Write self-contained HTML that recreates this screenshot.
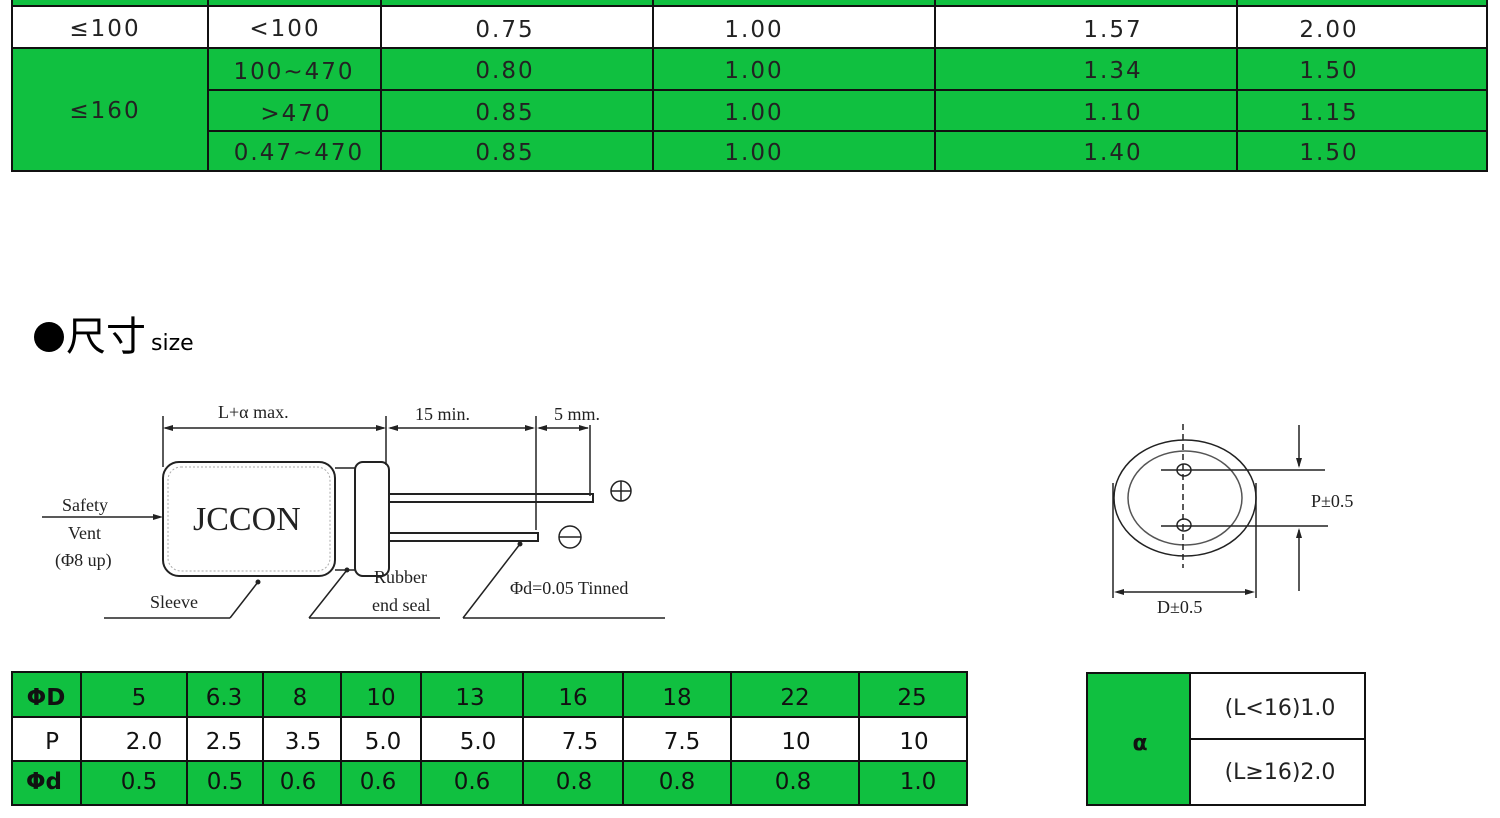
<!DOCTYPE html>
<html><head><meta charset="utf-8"><style>
html,body{margin:0;padding:0;background:#fff;width:1500px;height:818px;overflow:hidden}
svg text{font-family:"DejaVu Sans","Liberation Sans",sans-serif}
.s{font-family:"Liberation Serif",serif !important}
</style></head><body>
<svg width="1500" height="818" viewBox="0 0 1500 818" xmlns="http://www.w3.org/2000/svg">
<!-- top table -->
<rect x="12" y="0" width="1475" height="6" fill="#10c040"/>
<rect x="12" y="48" width="1475" height="123" fill="#10c040"/>
<g stroke="#111" stroke-width="2" fill="none">
<rect x="12" y="-2" width="1475" height="173"/>
<line x1="12" y1="6" x2="1487" y2="6"/>
<line x1="12" y1="48" x2="1487" y2="48"/>
<line x1="208" y1="90" x2="1487" y2="90"/>
<line x1="208" y1="131" x2="1487" y2="131"/>
<line x1="208" y1="0" x2="208" y2="171"/>
<line x1="381" y1="0" x2="381" y2="171"/>
<line x1="653" y1="0" x2="653" y2="171"/>
<line x1="935" y1="0" x2="935" y2="171"/>
<line x1="1237" y1="0" x2="1237" y2="171"/>
</g>
<g font-size="23" text-anchor="middle" fill="#222" letter-spacing="2">
<text x="105" y="36">≤100</text><text x="285" y="36">&lt;100</text><text x="505" y="37">0.75</text><text x="754" y="37">1.00</text><text x="1113" y="37">1.57</text><text x="1329" y="37">2.00</text>
<text x="105" y="118">≤160</text>
<text x="294" y="79">100~470</text><text x="505" y="78">0.80</text><text x="754" y="78">1.00</text><text x="1113" y="78">1.34</text><text x="1329" y="78">1.50</text>
<text x="296" y="121">&gt;470</text><text x="505" y="120">0.85</text><text x="754" y="120">1.00</text><text x="1113" y="120">1.10</text><text x="1329" y="120">1.15</text>
<text x="299" y="160">0.47~470</text><text x="505" y="160">0.85</text><text x="754" y="160">1.00</text><text x="1113" y="160">1.40</text><text x="1329" y="160">1.50</text>
</g>
<!-- heading -->
<circle cx="49" cy="337" r="15" fill="#000"/>
<text x="66" y="350" font-size="40" style="font-family:'Noto Sans CJK SC',sans-serif">尺寸</text>
<text x="151" y="350" font-size="22">size</text>
<!-- capacitor drawing -->
<g stroke="#222" fill="none" stroke-width="1.5">
<line x1="163" y1="416" x2="163" y2="467"/>
<line x1="386" y1="416" x2="386" y2="465"/>
<line x1="536" y1="416" x2="536" y2="530"/>
<line x1="590" y1="425" x2="590" y2="496"/>
<line x1="165" y1="428" x2="384" y2="428"/>
<line x1="390" y1="428" x2="533" y2="428"/>
<line x1="539" y1="428" x2="588" y2="428"/>
<rect x="163" y="462" width="172" height="114" rx="16" stroke-width="2"/>
<rect x="168" y="467" width="162" height="104" rx="13" stroke="#aaa" stroke-dasharray="2 2" stroke-width="1"/>
<line x1="335" y1="468" x2="355" y2="468"/>
<line x1="335" y1="570" x2="355" y2="570"/>
<rect x="355" y="462" width="34" height="114" rx="8" stroke-width="2"/>
<rect x="389" y="494" width="204" height="8" stroke-width="2"/>
<rect x="389" y="533" width="149" height="8" stroke-width="2"/>
<line x1="42" y1="517" x2="160" y2="517"/>
<circle cx="621" cy="491" r="10"/><line x1="611" y1="491" x2="631" y2="491"/><line x1="621" y1="481" x2="621" y2="501"/>
<circle cx="570" cy="537" r="11"/><line x1="559" y1="537" x2="581" y2="537"/>
<line x1="104" y1="618" x2="230" y2="618"/><line x1="230" y1="618" x2="258" y2="582"/>
<line x1="309" y1="618" x2="440" y2="618"/><line x1="309" y1="618" x2="347" y2="570"/>
<line x1="463" y1="618" x2="665" y2="618"/><line x1="463" y1="618" x2="520" y2="544"/>
</g>
<g fill="#222">
<polygon points="163,428 173,425 173,431"/><polygon points="386,428 376,425 376,431"/>
<polygon points="388,428 398,425 398,431"/><polygon points="535,428 525,425 525,431"/>
<polygon points="537,428 547,425 547,431"/><polygon points="589,428 579,425 579,431"/>
<polygon points="163,517 153,514 153,520"/>
<circle cx="258" cy="582" r="2.5"/><circle cx="347" cy="570" r="2.5"/><circle cx="520" cy="544" r="2.5"/>
</g>
<g class="s" font-size="18" fill="#222">
<text class="s" x="218" y="418">L+α max.</text>
<text class="s" x="415" y="420">15 min.</text>
<text class="s" x="554" y="420">5 mm.</text>
<text class="s" x="62" y="511">Safety</text>
<text class="s" x="68" y="539">Vent</text>
<text class="s" x="55" y="566">(Φ8 up)</text>
<text class="s" x="193" y="530" font-size="34">JCCON</text>
<text class="s" x="150" y="608">Sleeve</text>
<text class="s" x="374" y="583">Rubber</text>
<text class="s" x="372" y="611">end seal</text>
<text class="s" x="510" y="594">Φd=0.05 Tinned</text>
</g>
<!-- right drawing -->
<g stroke="#222" fill="none" stroke-width="1.5">
<ellipse cx="1185" cy="498" rx="71" ry="58"/>
<ellipse cx="1185" cy="498" rx="57" ry="47" stroke="#555"/>
<line x1="1183" y1="424" x2="1183" y2="568" stroke-dasharray="6 4"/>
<ellipse cx="1184" cy="470" rx="7" ry="6"/><ellipse cx="1184" cy="525" rx="7" ry="6"/>
<line x1="1161" y1="470" x2="1325" y2="470"/>
<line x1="1161" y1="526" x2="1328" y2="526"/>
<line x1="1299" y1="425" x2="1299" y2="466"/>
<line x1="1299" y1="530" x2="1299" y2="591"/>
<line x1="1113" y1="483" x2="1113" y2="598"/>
<line x1="1256" y1="483" x2="1256" y2="598"/>
<line x1="1117" y1="592" x2="1252" y2="592"/>
</g>
<g fill="#222">
<polygon points="1299,468 1296,458 1302,458"/><polygon points="1299,528 1296,538 1302,538"/>
<polygon points="1114,592 1124,589 1124,595"/><polygon points="1255,592 1245,589 1245,595"/>
</g>
<text class="s" x="1311" y="507" font-size="18" fill="#222">P±0.5</text>
<text class="s" x="1157" y="613" font-size="18" fill="#222">D±0.5</text>
<!-- bottom left table -->
<rect x="12" y="672" width="955" height="45" fill="#10c040"/>
<rect x="12" y="761" width="955" height="44" fill="#10c040"/>
<g stroke="#111" stroke-width="2" fill="none">
<rect x="12" y="672" width="955" height="133"/>
<line x1="12" y1="717" x2="967" y2="717"/><line x1="12" y1="761" x2="967" y2="761"/>
<line x1="81" y1="672" x2="81" y2="805"/><line x1="187" y1="672" x2="187" y2="805"/>
<line x1="263" y1="672" x2="263" y2="805"/><line x1="341" y1="672" x2="341" y2="805"/>
<line x1="421" y1="672" x2="421" y2="805"/><line x1="523" y1="672" x2="523" y2="805"/>
<line x1="623" y1="672" x2="623" y2="805"/><line x1="731" y1="672" x2="731" y2="805"/>
<line x1="859" y1="672" x2="859" y2="805"/>
</g>
<g font-size="23" text-anchor="middle" fill="#111">
<text x="46" y="705" font-weight="bold">ΦD</text><text x="139" y="705">5</text><text x="224" y="705">6.3</text><text x="300" y="705">8</text><text x="381" y="705">10</text><text x="470" y="705">13</text><text x="573" y="705">16</text><text x="677" y="705">18</text><text x="795" y="705">22</text><text x="912" y="705">25</text>
<text x="52" y="749">P</text><text x="144" y="749">2.0</text><text x="224" y="749">2.5</text><text x="303" y="749">3.5</text><text x="383" y="749">5.0</text><text x="478" y="749">5.0</text><text x="580" y="749">7.5</text><text x="682" y="749">7.5</text><text x="796" y="749">10</text><text x="914" y="749">10</text>
<text x="44" y="789" font-weight="bold">Φd</text><text x="139" y="789">0.5</text><text x="225" y="789">0.5</text><text x="298" y="789">0.6</text><text x="378" y="789">0.6</text><text x="472" y="789">0.6</text><text x="574" y="789">0.8</text><text x="677" y="789">0.8</text><text x="793" y="789">0.8</text><text x="918" y="789">1.0</text>
</g>
<!-- bottom right table -->
<rect x="1087" y="673" width="103" height="132" fill="#10c040"/>
<g stroke="#111" stroke-width="2" fill="none">
<rect x="1087" y="673" width="278" height="132"/>
<line x1="1190" y1="673" x2="1190" y2="805"/><line x1="1190" y1="739" x2="1365" y2="739"/>
</g>
<text x="1140" y="750" font-size="22" text-anchor="middle" font-weight="bold" fill="#111">α</text>
<text x="1280" y="715" font-size="22" text-anchor="middle" fill="#222">(L&lt;16)1.0</text>
<text x="1280" y="779" font-size="22" text-anchor="middle" fill="#222">(L≥16)2.0</text>
</svg>
</body></html>
